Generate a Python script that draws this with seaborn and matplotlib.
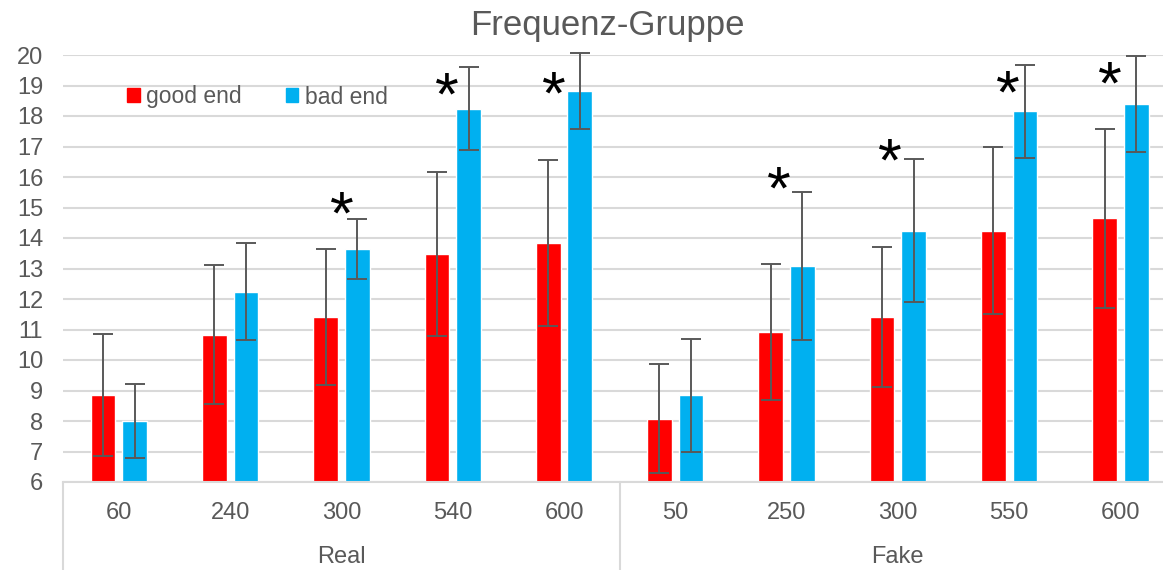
import matplotlib
matplotlib.use("Agg")
import matplotlib.pyplot as plt
import matplotlib.transforms as mtransforms
from matplotlib.patches import Patch
import seaborn as sns
import pandas as pd

# ---- data ----
categories = ["60", "240", "300", "540", "600", "50", "250", "300", "550", "600"]
groups = ["Real"] * 5 + ["Fake"] * 5
group_names = ["Real", "Fake"]
series_names = ["good end", "bad end"]
good_end = [8.85, 10.83, 11.41, 13.48, 13.83, 8.08, 10.92, 11.42, 14.24, 14.65]
good_err = [2.00, 2.27, 2.23, 2.68, 2.72, 1.78, 2.24, 2.30, 2.73, 2.94]
bad_end = [8.00, 12.24, 13.65, 18.24, 18.82, 8.84, 13.07, 14.24, 18.15, 18.39]
bad_err = [1.20, 1.60, 0.98, 1.36, 1.26, 1.84, 2.43, 2.34, 1.52, 1.57]
# significance markers: (category index, horizontal offset, value)
star_idx = [2, 3, 4, 6, 7, 8, 9]
star_dx = [0.0, -0.05, -0.09, -0.07, -0.07, -0.015, -0.09]
star_y = [15.34, 19.25, 19.28, 16.16, 17.08, 19.31, 19.60]

colors = ["#FF0000", "#00B0F0"]
text_col = "#595959"
grid_col = "#D9D9D9"

sns.set_theme(style="white")
plt.rcParams["font.family"] = ["Liberation Sans", "DejaVu Sans"]

keys = [f"{g}-{c}" for g, c in zip(groups, categories)]
df = pd.DataFrame({
    "key": keys * 2,
    "series": [series_names[0]] * 10 + [series_names[1]] * 10,
    "value": good_end + bad_end,
})

fig = plt.figure(figsize=(11.63, 5.70), dpi=100)
W, H = 1163, 570
left_px, right_px, top_px, bot_px = 63.3, 1176.0, 55.0, 482.0
ax = fig.add_axes([left_px / W, 1 - bot_px / H, (right_px - left_px) / W, (bot_px - top_px) / H])

sns.barplot(data=df, x="key", y="value", hue="series", order=keys,
            hue_order=series_names, palette=colors, width=0.568, gap=0.218,
            errorbar=None, legend=False, ax=ax, saturation=1, zorder=2)

# error bars on the bar centres
for cont, errs in zip(ax.containers, [good_err, bad_err]):
    xs = [p.get_x() + p.get_width() / 2 for p in cont.patches]
    ys = [p.get_height() for p in cont.patches]
    ax.errorbar(xs, ys, yerr=errs, fmt="none", ecolor=text_col, elinewidth=1.4,
                capsize=7, capthick=1.4, clip_on=False, zorder=3)

ax.set_ylim(6, 20)
ax.set_xlim(-0.5, 9.5)
ax.set_yticks(range(6, 21))
ax.set_xticks(range(10))
ax.set_xticklabels(categories)
ax.set_xlabel("")
ax.set_ylabel("")
ax.yaxis.grid(True, color=grid_col, linewidth=1.5, zorder=0)
ax.set_axisbelow(True)
for s in ["left", "right", "top"]:
    ax.spines[s].set_visible(False)
ax.spines["bottom"].set_color(grid_col)
ax.spines["bottom"].set_linewidth(1.5)
ax.tick_params(axis="y", length=0, pad=14.5, labelsize=17, labelcolor=text_col)
ax.tick_params(axis="x", length=0, pad=14.5, labelsize=17, labelcolor=text_col)

# multi-level category axis
trans = mtransforms.blended_transform_factory(ax.transData, ax.transAxes)
for xv in [-0.5, 4.5]:
    ax.plot([xv, xv], [0, -0.3], transform=trans, color=grid_col, lw=1.5,
            clip_on=False, zorder=1)
for gi, gname in enumerate(group_names):
    idx = [i for i, g in enumerate(groups) if g == gname]
    ax.text(sum(idx) / len(idx), -0.175, gname, transform=trans, ha="center",
            va="center", fontsize=17, color=text_col)

# asterisks
for i, dx, yv in zip(star_idx, star_dx, star_y):
    ax.annotate("*", xy=(i + dx, yv), xytext=(0, -26), textcoords="offset points",
                ha="center", va="baseline", fontsize=44, color="black",
                annotation_clip=False)

# legend
handles = [Patch(facecolor=c, edgecolor=c, label=n) for c, n in zip(colors, series_names)]
fig.legend(handles=handles, loc="center left", bbox_to_anchor=(127 / W, 1 - 97 / H),
           ncol=2, frameon=False, fontsize=16.5, handlelength=0.55, handleheight=0.55,
           handletextpad=0.3, columnspacing=1.9, borderpad=0, borderaxespad=0,
           labelcolor=text_col)

fig.text(607 / W, 1 - 35 / H, "Frequenz-Gruppe", ha="center", va="baseline",
         fontsize=25, color=text_col)

fig.savefig("out.png", dpi=100)
